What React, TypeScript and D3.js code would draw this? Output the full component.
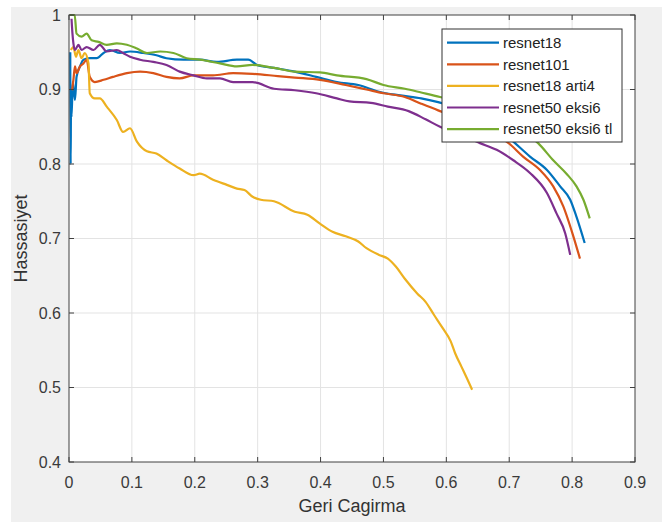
import React from "react";
import * as d3 from "d3";

const xTicks = [0, 0.1, 0.2, 0.3, 0.4, 0.5, 0.6, 0.7, 0.8, 0.9];
const yTicks = [0.4, 0.5, 0.6, 0.7, 0.8, 0.9, 1];
const seriesNames = ["resnet18", "resnet101", "resnet18 arti4", "resnet50 eksi6", "resnet50 eksi6 tl"];
const seriesColors = ["#0072BD", "#D95319", "#EDB120", "#7E2F8E", "#77AC30"];

const resnet18: [number, number][] = [[0.002,0.95],[0.0026,0.80],[0.0032,0.88],[0.004,0.863],[0.006,0.91],[0.007,0.904],[0.0095,0.886],[0.012,0.917],[0.0175,0.931],[0.023,0.94],[0.033,0.942],[0.044,0.942],[0.055,0.949],[0.065,0.953],[0.081,0.949],[0.097,0.951],[0.118,0.949],[0.139,0.946],[0.155,0.942],[0.182,0.94],[0.208,0.94],[0.235,0.937],[0.267,0.94],[0.285,0.94],[0.299,0.933],[0.326,0.929],[0.359,0.924],[0.393,0.917],[0.426,0.91],[0.46,0.906],[0.493,0.897],[0.527,0.892],[0.56,0.888],[0.587,0.883],[0.62,0.875],[0.66,0.86],[0.69,0.842],[0.7065,0.83],[0.733,0.81],[0.76,0.792],[0.781,0.77],[0.797,0.752],[0.807,0.729],[0.82,0.694]];
const resnet101: [number, number][] = [[0.005,0.899],[0.007,0.913],[0.0095,0.931],[0.012,0.922],[0.0175,0.931],[0.023,0.935],[0.028,0.94],[0.033,0.917],[0.041,0.91],[0.055,0.913],[0.07,0.917],[0.092,0.922],[0.113,0.924],[0.134,0.922],[0.155,0.917],[0.176,0.915],[0.198,0.919],[0.229,0.919],[0.261,0.922],[0.292,0.921],[0.332,0.918],[0.359,0.916],[0.399,0.913],[0.44,0.906],[0.473,0.9],[0.5,0.895],[0.534,0.89],[0.56,0.881],[0.587,0.872],[0.62,0.862],[0.66,0.848],[0.699,0.828],[0.722,0.81],[0.749,0.792],[0.77,0.77],[0.786,0.743],[0.799,0.711],[0.8125,0.673]];
const resnet18arti4: [number, number][] = [[0.003,0.953],[0.007,0.957],[0.011,0.944],[0.015,0.953],[0.02,0.942],[0.025,0.949],[0.031,0.935],[0.033,0.895],[0.041,0.888],[0.049,0.888],[0.06,0.877],[0.076,0.859],[0.086,0.843],[0.097,0.848],[0.108,0.83],[0.124,0.817],[0.139,0.814],[0.155,0.805],[0.176,0.794],[0.198,0.785],[0.208,0.787],[0.229,0.779],[0.251,0.772],[0.267,0.767],[0.279,0.765],[0.292,0.756],[0.305,0.752],[0.326,0.75],[0.359,0.736],[0.379,0.732],[0.399,0.72],[0.419,0.709],[0.44,0.703],[0.46,0.696],[0.473,0.687],[0.493,0.678],[0.507,0.673],[0.52,0.662],[0.534,0.646],[0.554,0.626],[0.567,0.615],[0.58,0.598],[0.594,0.58],[0.607,0.562],[0.614,0.546],[0.624,0.528],[0.634,0.51],[0.641,0.497]];
const resnet50eksi6: [number, number][] = [[0.004,0.995],[0.0055,0.975],[0.007,0.962],[0.0095,0.953],[0.015,0.96],[0.02,0.953],[0.028,0.957],[0.039,0.953],[0.049,0.96],[0.06,0.951],[0.076,0.953],[0.086,0.949],[0.097,0.944],[0.113,0.94],[0.134,0.937],[0.155,0.933],[0.176,0.924],[0.198,0.919],[0.219,0.915],[0.24,0.915],[0.261,0.91],[0.292,0.91],[0.326,0.901],[0.359,0.899],[0.393,0.895],[0.426,0.888],[0.446,0.884],[0.48,0.882],[0.507,0.877],[0.54,0.871],[0.567,0.86],[0.59,0.85],[0.62,0.84],[0.6535,0.828],[0.68,0.819],[0.7065,0.805],[0.733,0.788],[0.76,0.761],[0.775,0.734],[0.789,0.707],[0.797,0.678]];
const resnet50eksi6tl: [number, number][] = [[0.001,1.0],[0.009,1.0],[0.012,0.975],[0.02,0.971],[0.028,0.975],[0.036,0.966],[0.047,0.964],[0.06,0.96],[0.076,0.962],[0.092,0.96],[0.108,0.955],[0.124,0.949],[0.145,0.951],[0.166,0.949],[0.187,0.942],[0.208,0.94],[0.24,0.935],[0.267,0.931],[0.292,0.933],[0.326,0.929],[0.359,0.924],[0.399,0.923],[0.426,0.919],[0.473,0.914],[0.5,0.906],[0.534,0.901],[0.56,0.896],[0.59,0.89],[0.63,0.88],[0.67,0.87],[0.71,0.85],[0.746,0.828],[0.77,0.805],[0.791,0.787],[0.807,0.77],[0.818,0.752],[0.828,0.727]];

const seriesData = [resnet18, resnet101, resnet18arti4, resnet50eksi6, resnet50eksi6tl];

const W = 662, H = 522;
const L = 69, R = 635, T = 15, B = 462;
const FONT = "'Liberation Sans', Arial, Helvetica, sans-serif";
const AX = "#404040";

export default function App() {
  const x = d3.scaleLinear().domain([0, 0.9]).range([L, R]);
  const y = d3.scaleLinear().domain([0.4, 1]).range([B, T]);
  const line = d3.line<[number, number]>().x(d => x(d[0])).y(d => y(d[1])).curve(d3.curveMonotoneX);
  const tl = 5;
  const legX = 442, legY = 29, legW = 180, legH = 113;
  return (
    <div style={{ position: "absolute", left: 0, top: 0 }}>
      <svg width={W} height={H} style={{ display: "block" }}>
        <rect x={0} y={0} width={W} height={H} fill="#ffffff" />
        <rect x={11} y={7} width={W - 11} height={H - 7} fill="#f0f0f0" />
        <rect x={L} y={T} width={R - L} height={B - T} fill="#ffffff" />
        {xTicks.slice(1, -1).map(t => (
          <line key={"gx" + t} x1={x(t)} x2={x(t)} y1={T} y2={B} stroke="#e3e3e3" strokeWidth={1} />
        ))}
        {yTicks.slice(1, -1).map(t => (
          <line key={"gy" + t} x1={L} x2={R} y1={y(t)} y2={y(t)} stroke="#e3e3e3" strokeWidth={1} />
        ))}
        <defs>
          <clipPath id="plotclip">
            <rect x={L - 2} y={T - 2} width={R - L + 4} height={B - T + 4} />
          </clipPath>
        </defs>
        <g clipPath="url(#plotclip)">
          {seriesData.map((d, i) => (
            <path key={i} d={line(d) || ""} fill="none" stroke={seriesColors[i]} strokeWidth={2.2} strokeLinejoin="round" />
          ))}
        </g>
        <rect x={L} y={T} width={R - L} height={B - T} fill="none" stroke={AX} strokeWidth={1} />
        {xTicks.map(t => (
          <g key={"tx" + t}>
            <line x1={x(t)} x2={x(t)} y1={B} y2={B - tl} stroke={AX} />
            <line x1={x(t)} x2={x(t)} y1={T} y2={T + tl} stroke={AX} />
            <text x={x(t)} y={488} textAnchor="middle" fontFamily={FONT} fontSize={16} fill="#3a3a3a">{String(t)}</text>
          </g>
        ))}
        {yTicks.map(t => (
          <g key={"ty" + t}>
            <line x1={L} x2={L + tl} y1={y(t)} y2={y(t)} stroke={AX} />
            <line x1={R} x2={R - tl} y1={y(t)} y2={y(t)} stroke={AX} />
            <text x={61} y={y(t)} dy="0.35em" textAnchor="end" fontFamily={FONT} fontSize={16} fill="#3a3a3a">{String(t)}</text>
          </g>
        ))}
        <text x={(L + R) / 2} y={512} textAnchor="middle" fontFamily={FONT} fontSize={18} fill="#333">Geri Cagirma</text>
        <text transform={`translate(27,${(T + B) / 2}) rotate(-90)`} textAnchor="middle" fontFamily={FONT} fontSize={18} fill="#333">Hassasiyet</text>
        <rect x={legX} y={legY} width={legW} height={legH} fill="#ffffff" stroke="#333" strokeWidth={1} />
        {seriesNames.map((n, i) => {
          const ly = 42.7 + i * 21.6;
          return (
            <g key={n}>
              <line x1={447} x2={499} y1={ly} y2={ly} stroke={seriesColors[i]} strokeWidth={2.2} />
              <text x={503} y={ly} dy="0.35em" fontFamily={FONT} fontSize={15} fill="#222">{n}</text>
            </g>
          );
        })}
      </svg>
    </div>
  );
}
